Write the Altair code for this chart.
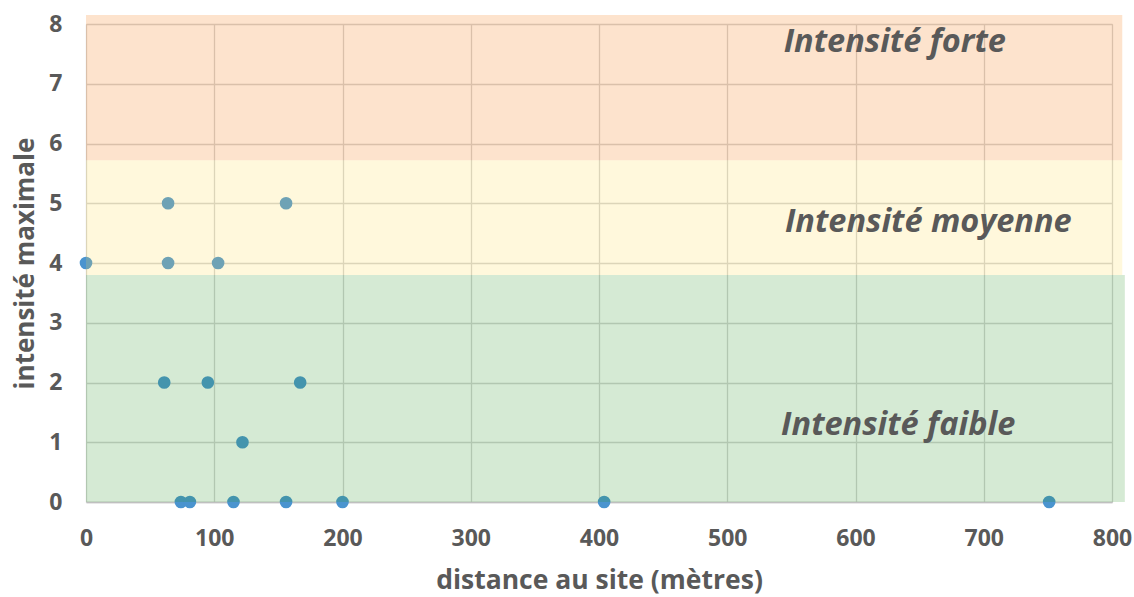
import altair as alt
import pandas as pd

# Data points
distance = [0, 64, 64, 103, 156, 61, 95, 167, 122, 74, 81, 115, 156, 200, 404, 751]
intensite = [4, 5, 4, 4, 5, 2, 2, 2, 1, 0, 0, 0, 0, 0, 0, 0]

# Intensity zones
zone_names = ["Intensité faible", "Intensité moyenne", "Intensité forte"]
zone_low = [0, 3.8, 5.72]
zone_high = [3.8, 5.72, 8.15]
zone_colors = ["#2d9628", "#ffdc50", "#f57305"]
zone_x_start = [0, 0, 0]
zone_x_end = [810, 808, 808]
label_x = [542, 545, 544]
label_y = [1.29, 4.69, 7.70]

FONT = "Open Sans"
GREY = "#595959"

pts = pd.DataFrame({"distance": distance, "intensite": intensite})
zones = pd.DataFrame({
    "name": zone_names, "y0": zone_low, "y1": zone_high,
    "x0": zone_x_start, "x1": zone_x_end, "color": zone_colors,
    "lx": label_x, "ly": label_y,
})

xscale = alt.Scale(domain=[0, 800], nice=False, zero=False)
yscale = alt.Scale(domain=[0, 8], nice=False, zero=False)

xaxis = alt.Axis(
    values=list(range(0, 801, 100)), title="distance au site (mètres)", format="d",
    grid=True, gridColor="#d4d4d4", gridWidth=1.3,
    ticks=False, domain=True, domainColor="#bfbfbf", domainWidth=1.5,
    labelFont=FONT, labelFontSize=23, labelFontWeight="bold", labelColor=GREY,
    labelPadding=25, labelFlush=False,
    titleFont=FONT, titleFontSize=26.5, titleFontWeight="bold", titleColor=GREY,
    titleBaseline="alphabetic", titleY=86,
)
yaxis = alt.Axis(
    values=list(range(0, 9)), title="intensité maximale", format="d",
    grid=True, gridColor="#d4d4d4", gridWidth=1.3,
    ticks=False, domain=False,
    labelFont=FONT, labelFontSize=23, labelFontWeight="bold", labelColor=GREY,
    labelPadding=24, labelFlush=False,
    titleFont=FONT, titleFontSize=26, titleFontWeight="bold", titleColor=GREY,
    titleBaseline="alphabetic", titleX=-53, titleAnchor="middle",
)

points = alt.Chart(pts).mark_circle(size=160, opacity=1, color="#4a94cf").encode(
    x=alt.X("distance:Q", scale=xscale, axis=xaxis),
    y=alt.Y("intensite:Q", scale=yscale, axis=yaxis),
)

bands = alt.Chart(zones).mark_rect(opacity=0.2, clip=False).encode(
    x=alt.X("x0:Q", scale=xscale),
    x2="x1:Q",
    y=alt.Y("y0:Q", scale=yscale),
    y2="y1:Q",
    color=alt.Color("color:N", scale=None, legend=None),
)

labels = alt.Chart(zones).mark_text(
    align="left", baseline="middle", font=FONT, fontSize=32.5,
    fontWeight="bold", fontStyle="italic", color=GREY,
).encode(
    x=alt.X("lx:Q", scale=xscale),
    y=alt.Y("ly:Q", scale=yscale),
    text="name:N",
)

chart = alt.layer(points, bands, labels).properties(
    width=1026, height=478,
    autosize=alt.AutoSizeParams(type="none"),
    padding={"left": 86, "top": 24, "right": 22, "bottom": 95},
).configure_view(stroke=None).configure(background="white")

chart.save("out.html", embed_options={"renderer": "svg", "actions": False})
